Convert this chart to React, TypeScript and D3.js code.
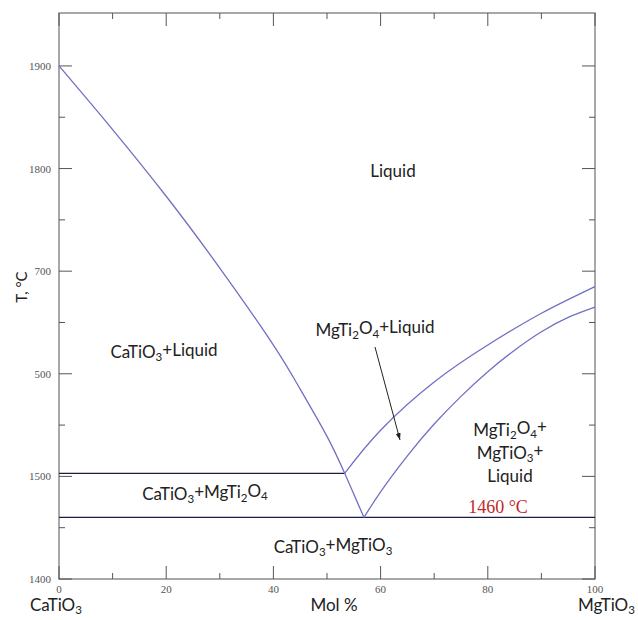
import React, { useEffect } from "react";
import * as d3 from "d3";

// ---- data ----
const xMajorTicks = [0, 20, 40, 60, 80, 100];
const xMinorTicks = [10, 30, 50, 70, 90];
const yMajorTicks = [1400, 1500, 1600, 1700, 1800, 1900];
const yTickLabels = ["1400", "1500", "500", "700", "1800", "1900"];
const yMinorTicks = [1450, 1550, 1650, 1750, 1850];

// CaTiO3 liquidus (mol% MgTiO3, T)
const caLiquidus: [number, number][] = [
  [0, 1900], [10, 1838], [20, 1773], [30, 1703], [40, 1628],
  [45, 1585], [50, 1539], [53.3, 1503],
];
// metastable extension of CaTiO3 liquidus down to the eutectic
const caExtension: [number, number][] = [
  [53.3, 1503], [56.9, 1460],
];
// MgTi2O4 liquidus
const spinelLiquidus: [number, number][] = [
  [53.3, 1503], [60, 1545], [70, 1592], [80, 1628], [90, 1659], [100, 1685],
];
// MgTiO3 liquidus
const mgLiquidus: [number, number][] = [
  [56.9, 1460], [60, 1485], [65, 1520], [70, 1551], [75, 1578], [80, 1602],
  [85, 1623], [90, 1641], [95, 1655], [100, 1665],
];
// invariant lines
const peritecticT = 1503;
const peritecticX = 53.3;
const eutecticT = 1460;

const lineColor = "#7070c4";
const isoColor = "#1c1c44";
const axisColor = "#7a7a7a";

const W = 638, H = 620;
const M = { left: 59, right: 595, top: 13, bottom: 579 };

const x = d3.scaleLinear().domain([0, 100]).range([M.left, M.right]);
const y = d3.scaleLinear().domain([1400, 1951.6]).range([M.bottom, M.top]);

const line = d3
  .line<[number, number]>()
  .x((d) => x(d[0]))
  .y((d) => y(d[1]))
  .curve(d3.curveNatural);

const sans = "Lato, 'Noto Sans', sans-serif";
const serif = "'Liberation Serif', 'DejaVu Serif', serif";

function Sub({ children }: { children: React.ReactNode }) {
  return (
    <tspan fontSize="0.68em" dy="0.3em">
      {children}
    </tspan>
  );
}

export default function App() {
  useEffect(() => {
    document.body.style.margin = "0";
  }, []);

  const majorLen = 13;
  const minorLen = 6;

  return (
    <svg width={W} height={H} style={{ display: "block", background: "#fff" }}>
      <defs>
        <marker id="arr" viewBox="0 0 10 10" refX="10" refY="5" markerWidth="7" markerHeight="9" orient="auto" markerUnits="userSpaceOnUse">
          <path d="M0,1.5 L10,5 L0,8.5 Z" fill="#222" />
        </marker>
      </defs>

      {/* frame */}
      <rect x={M.left} y={M.top} width={M.right - M.left} height={M.bottom - M.top} fill="none" stroke={axisColor} strokeWidth={1.3} />

      {/* x ticks, bottom and top */}
      {xMajorTicks.map((t) => (
        <g key={"xm" + t}>
          <line x1={x(t)} x2={x(t)} y1={M.bottom} y2={M.bottom - majorLen} stroke="#555" strokeWidth={1} />
          <line x1={x(t)} x2={x(t)} y1={M.top} y2={M.top + majorLen} stroke="#555" strokeWidth={1} />
          <text x={x(t)} y={M.bottom + 14} fontFamily={serif} fontSize={11} fill="#555" textAnchor="middle">
            {t}
          </text>
        </g>
      ))}
      {xMinorTicks.map((t) => (
        <g key={"xn" + t}>
          <line x1={x(t)} x2={x(t)} y1={M.bottom} y2={M.bottom - minorLen} stroke="#555" strokeWidth={1} />
          <line x1={x(t)} x2={x(t)} y1={M.top} y2={M.top + minorLen} stroke="#555" strokeWidth={1} />
        </g>
      ))}

      {/* y ticks, left and right */}
      {yMajorTicks.map((t, i) => (
        <g key={"ym" + t}>
          <line x1={M.left} x2={M.left + majorLen} y1={y(t)} y2={y(t)} stroke="#555" strokeWidth={1} />
          <line x1={M.right} x2={M.right - majorLen} y1={y(t)} y2={y(t)} stroke="#555" strokeWidth={1} />
          <text x={M.left - 8} y={y(t) + 4} fontFamily={serif} fontSize={11} fill="#555" textAnchor="end">
            {yTickLabels[i]}
          </text>
        </g>
      ))}
      {yMinorTicks.map((t) => (
        <g key={"yn" + t}>
          <line x1={M.left} x2={M.left + minorLen} y1={y(t)} y2={y(t)} stroke="#555" strokeWidth={1} />
          <line x1={M.right} x2={M.right - minorLen} y1={y(t)} y2={y(t)} stroke="#555" strokeWidth={1} />
        </g>
      ))}

      {/* invariant lines */}
      <line x1={x(0)} x2={x(peritecticX)} y1={y(peritecticT)} y2={y(peritecticT)} stroke={isoColor} strokeWidth={1.2} />
      <line x1={x(0)} x2={x(100)} y1={y(eutecticT)} y2={y(eutecticT)} stroke={isoColor} strokeWidth={1.2} />

      {/* liquidus curves */}
      <path d={line(caLiquidus) || ""} fill="none" stroke={lineColor} strokeWidth={1.3} />
      <path d={line(caExtension) || ""} fill="none" stroke={lineColor} strokeWidth={1.3} />
      <path d={line(spinelLiquidus) || ""} fill="none" stroke={lineColor} strokeWidth={1.3} />
      <path d={line(mgLiquidus) || ""} fill="none" stroke={lineColor} strokeWidth={1.3} />

      {/* arrow */}
      <line x1={375} x2={400} y1={347} y2={440} stroke="#222" strokeWidth={1} markerEnd="url(#arr)" />

      {/* region labels */}
      <g fontFamily={sans} fontSize={17} fill="#222" textAnchor="middle">
        <text x={393} y={177}>Liquid</text>
        <text x={164} y={358}>
          CaTiO<Sub>3</Sub><tspan dy="-0.3em">+Liquid</tspan>
        </text>
        <text x={375} y={336}>
          MgTi<Sub>2</Sub><tspan dy="-0.3em">O</tspan><Sub>4</Sub><tspan dy="-0.3em">+Liquid</tspan>
        </text>
        <text x={510} y={436}>
          MgTi<Sub>2</Sub><tspan dy="-0.3em">O</tspan><Sub>4</Sub><tspan dy="-0.3em">+</tspan>
        </text>
        <text x={510} y={459}>
          MgTiO<Sub>3</Sub><tspan dy="-0.3em">+</tspan>
        </text>
        <text x={510} y={482}>Liquid</text>
        <text x={205} y={500}>
          CaTiO<Sub>3</Sub><tspan dy="-0.3em">+MgTi</tspan><Sub>2</Sub><tspan dy="-0.3em">O</tspan><Sub>4</Sub>
        </text>
        <text x={333} y={553}>
          CaTiO<Sub>3</Sub><tspan dy="-0.3em">+MgTiO</tspan><Sub>3</Sub>
        </text>
      </g>
      <text x={498} y={513} fontFamily={serif} fontSize={18} fill="#c0282c" textAnchor="middle">
        1460 °C
      </text>

      {/* axis titles */}
      <text transform="translate(27,287) rotate(-90)" fontFamily={sans} fontSize={15} fill="#222" textAnchor="middle">
        T, °C
      </text>
      <g fontFamily={sans} fontSize={17} fill="#222">
        <text x={30} y={611}>
          CaTiO<Sub>3</Sub>
        </text>
        <text x={334} y={611} textAnchor="middle">Mol %</text>
        <text x={578} y={611}>
          MgTiO<Sub>3</Sub>
        </text>
      </g>
    </svg>
  );
}
